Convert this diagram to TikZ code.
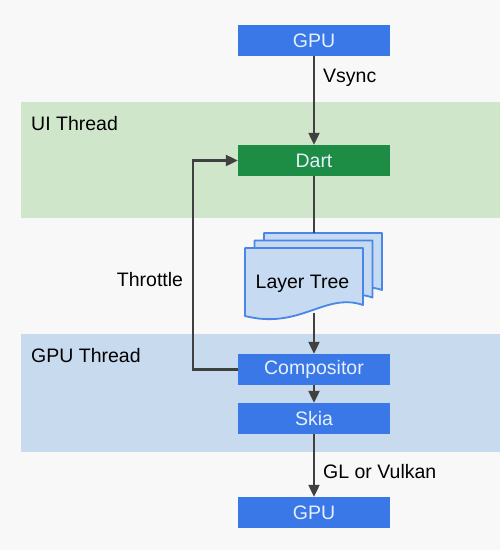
\documentclass[tikz,border=0pt]{standalone}
\usepackage{fontspec}
\setmainfont{Liberation Sans}
\usetikzlibrary{arrows.meta}
\definecolor{bg}{HTML}{F8F8F8}
\definecolor{uiband}{HTML}{D0E6CB}
\definecolor{gpuband}{HTML}{C7DAEE}
\definecolor{boxblue}{HTML}{3B78E7}
\definecolor{dartgreen}{HTML}{1D8C45}
\definecolor{boxtext}{HTML}{E6F0FD}
\definecolor{docfill}{HTML}{C6DAF2}
\definecolor{docline}{HTML}{4A86E8}
\definecolor{linec}{HTML}{404040}
\tikzset{
  box/.style={minimum width=152pt, minimum height=31pt, inner sep=0pt, fill=boxblue, text=boxtext, font=\fontsize{19.5}{21}\selectfont},
  lbl/.style={font=\fontsize{19.5}{21}\selectfont, text=black, inner sep=0pt},
  conn/.style={draw=linec, line width=2.2pt, -{Triangle[length=12pt,width=11pt]}},
  plain/.style={draw=linec, line width=2.2pt},
  doc/.style={fill=docfill, draw=docline, line width=1.8pt, line join=round}
}
\newcommand{\docshape}[2]{%
  \path[doc] (245+#1,248+#2) -- (363+#1,248+#2) -- (363+#1,305+#2)
    .. controls (325+#1,292+#2) and (300+#1,330+#2) .. (245+#1,316+#2) -- cycle;}
\begin{document}
\begin{tikzpicture}[x=1pt,y=-1pt]
\fill[bg] (0,0) rectangle (500,550);
\fill[uiband] (21,102) rectangle (500,218);
\fill[gpuband] (21,334) rectangle (500,452);
\node[lbl, anchor=west] (uilbl) at (31,124) {UI Thread};
\node[lbl, anchor=west] (gpulbl) at (31,356) {GPU Thread};

\node[box] (gpu1) at (314,40.5) {GPU};
\node[box, fill=dartgreen] (dart) at (314,160.5) {Dart};
\node[box] (comp) at (314,369.5) {Compositor};
\node[box] (skia) at (314,418.5) {Skia};
\node[box] (gpu2) at (314,512.5) {GPU};

\docshape{19}{-15}
\docshape{9.5}{-7.5}
\docshape{0}{0}
\node[lbl] (lt) at (302.5,284) {Layer Tree};
\coordinate (lttop) at (314,233);
\coordinate (ltbot) at (314,313);

\draw[conn] (gpu1) -- (dart);
\node[lbl, anchor=west] (vs) at (323,78) {Vsync};
\draw[plain] (dart.south) -- (lttop);
\draw[conn] (ltbot) -- (comp.north);
\draw[conn] (comp) -- (skia);
\draw[conn] (skia) -- (gpu2);
\node[lbl, anchor=west] (glv) at (323,472) {GL or Vulkan};
\draw[conn] (comp.west) -- ++(-45,0) coordinate (tc) |- (dart.west);
\node[lbl] (thr) at (150,280) {Throttle};
\end{tikzpicture}
\end{document}
